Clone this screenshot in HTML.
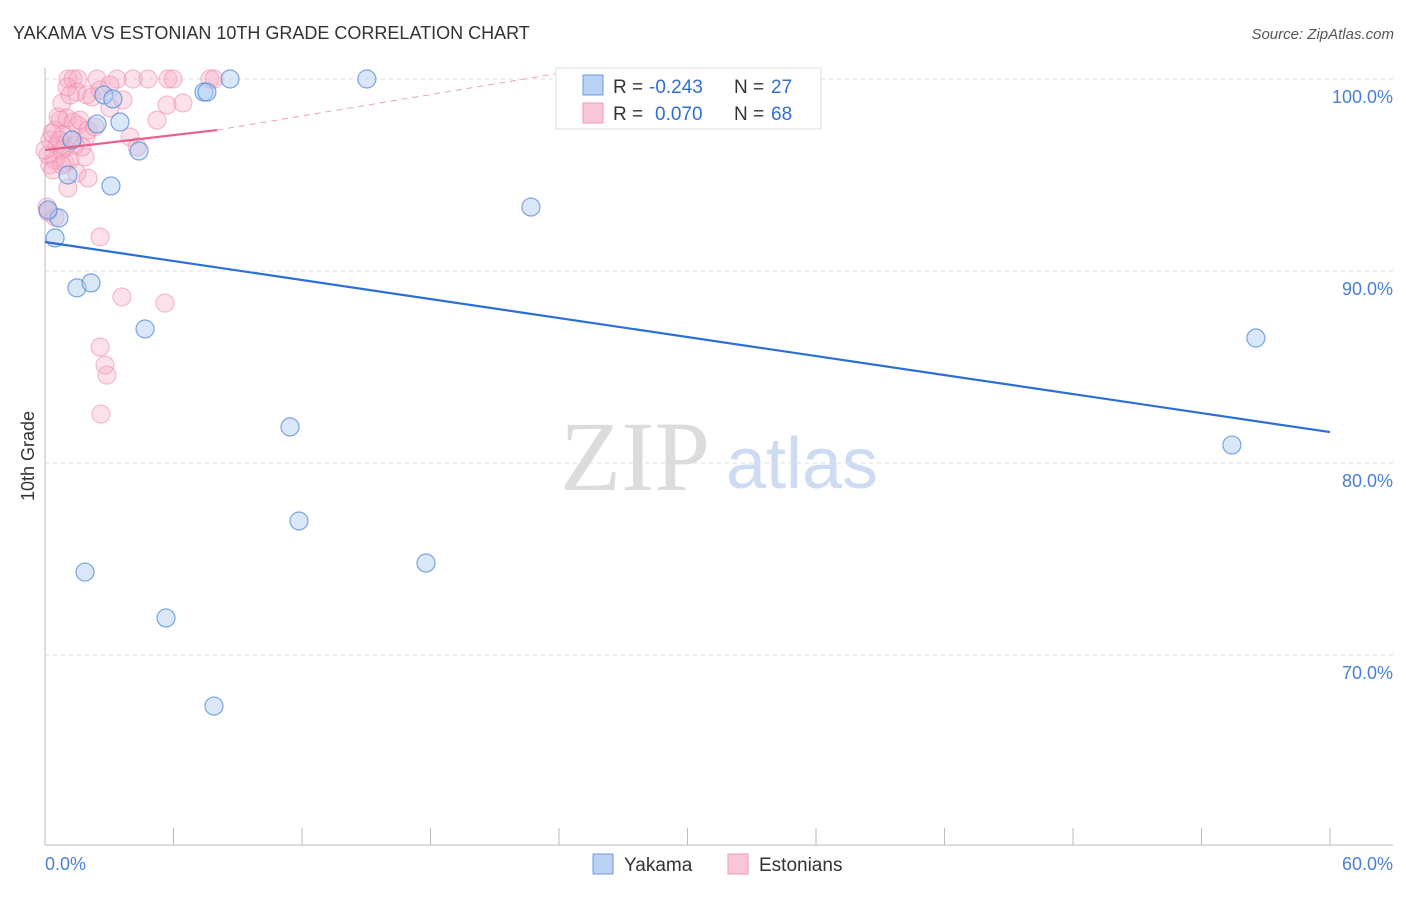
<!DOCTYPE html>
<html><head><meta charset="utf-8"><style>
body{margin:0;background:#fff;font-family:"Liberation Sans",sans-serif;}
</style></head><body>
<svg id="chart" width="1406" height="892" xmlns="http://www.w3.org/2000/svg" font-family="Liberation Sans, sans-serif">
<text x="13" y="39" font-size="18" fill="#333">YAKAMA VS ESTONIAN 10TH GRADE CORRELATION CHART</text>
<text x="1394" y="39" font-size="15" fill="#555" text-anchor="end" font-style="italic">Source: ZipAtlas.com</text>
<text x="34" y="456" font-size="18" fill="#333" text-anchor="middle" transform="rotate(-90 34 456)">10th Grade</text>
<g>
<text x="635" y="490" font-size="100" fill="#dcdcdc" text-anchor="middle" style="font-family:'Liberation Serif',serif">ZIP</text>
<text x="802" y="488" font-size="72" fill="#cddcf2" text-anchor="middle">atlas</text>
</g>
<g id="grid"></g><g id="axes"></g><g id="pink"></g><g id="blue"></g><g id="lines"></g>
<g>
<rect x="556" y="68" width="265" height="61" fill="#fff" stroke="#ddd"/>
<rect x="583" y="75" width="20" height="20" fill="#b9d2f3" stroke="#6c9be0"/>
<rect x="583" y="103" width="20" height="20" fill="#f9c6d5" stroke="#ee9ab6"/>
<text x="613" y="93" font-size="19" fill="#333">R =</text>
<text x="649" y="93" font-size="19" fill="#2f6fd0">-0.243</text>
<text x="734" y="93" font-size="19" fill="#333">N =</text>
<text x="771" y="93" font-size="19" fill="#2f6fd0">27</text>
<text x="613" y="120" font-size="19" fill="#333">R =</text>
<text x="655" y="120" font-size="19" fill="#2f6fd0">0.070</text>
<text x="734" y="120" font-size="19" fill="#333">N =</text>
<text x="771" y="120" font-size="19" fill="#2f6fd0">68</text>
</g>
<g>
<rect x="593" y="854" width="20" height="20" fill="#b9d2f3" stroke="#6c9be0"/>
<text x="624" y="871" font-size="19" fill="#333">Yakama</text>
<rect x="728" y="854" width="20" height="20" fill="#f9c6d5" stroke="#ee9ab6"/>
<text x="759" y="871" font-size="19" fill="#333">Estonians</text>
</g>
</svg>
<script>
const yTicks=[100,90,80,70];
const yTickLabels=["100.0%","90.0%","80.0%","70.0%"];
const xTicks=[0,6,12,18,24,30,36,42,48,54,60];
const blueX=[0.47,0.65,0.14,1.49,2.15,1.87,1.07,1.26,2.43,3.08,2.75,3.17,3.50,4.39,4.67,5.65,7.42,7.56,7.89,8.64,11.44,11.86,15.03,17.79,22.69,56.54,55.42];
const blueY=[91.72,92.76,93.18,89.12,89.38,74.32,95.0,96.82,97.66,94.43,99.17,98.96,97.76,96.25,86.98,71.93,99.32,99.32,67.34,100,81.88,76.98,100,74.79,93.33,86.51,80.94];
const pinkX=[1.07,1.31,1.54,2.43,3.36,4.11,4.81,5.74,5.98,7.70,7.89,1.03,1.49,1.96,2.19,3.03,5.70,6.44,5.23,0.79,0.70,1.03,1.31,0.47,0.84,1.54,0.23,0.56,0.93,1.26,0.14,0.47,0.79,1.17,0.23,1.91,1.63,2.01,3.97,4.30,1.87,0.37,0.93,1.49,2.01,1.07,0.09,0.47,2.57,3.59,5.60,2.57,2.80,2.89,2.61,2.33,0.61,3.03,3.64,0.33,0.0,0.7,1.4,0.79,1.73,2.57,1.17,0.14];
const pinkY=[100,100,100,100,100,100,100,100,100,100,100,99.58,99.32,99.17,99.06,98.49,98.65,98.75,97.86,98.75,97.86,97.97,97.76,97.34,97.08,97.60,96.82,96.56,96.41,96.82,96.04,95.78,96.30,95.78,95.52,96.98,97.86,97.34,96.98,96.46,95.94,95.26,95.63,95.10,94.84,94.32,93.33,92.81,91.77,88.65,88.33,86.04,85.10,84.58,82.55,97.5,98.02,99.69,98.91,97.19,96.3,96.82,96.56,95.52,96.46,99.43,99.17,93.07];
const blueLine=[[0,91.51],[60,81.61]];
const pinkLineSolid=[[0,96.30],[8.03,97.34]];
const pinkLineDash=[[8.03,97.34],[24,100.3]];
const X=v=>45+v*(1285/60);
const Y=v=>79+(100-v)*19.2;
const NS="http://www.w3.org/2000/svg";
function mk(t,p,a){const e=document.createElementNS(NS,t);for(const k in a)e.setAttribute(k,a[k]);p.appendChild(e);return e;}
const grid=document.getElementById('grid');
yTicks.forEach((t,i)=>{
 const l=mk('line',grid,{x1:45,x2:1393,y1:Y(t),y2:Y(t),stroke:'#ddd','stroke-dasharray':'4,4'});
 
 
 const tx=mk('text',grid,{x:1393,y:Y(t)+24,'font-size':18,fill:'#4a7fd4','text-anchor':'end'});
 tx.textContent=yTickLabels[i];
 
 
});
const axes=document.getElementById('axes');
mk('line',axes,{x1:45,x2:45,y1:68,y2:845,stroke:'#bbb'});
mk('line',axes,{x1:45,x2:1393,y1:845,y2:845,stroke:'#bbb'});
xTicks.forEach(t=>{const l=mk('line',axes,{x1:X(t),x2:X(t),y1:828,y2:845,stroke:'#bbb'});
 
 });
let t0=mk('text',axes,{x:45,y:870,'font-size':18,fill:'#4a7fd4'});t0.textContent='0.0%';


let t1=mk('text',axes,{x:1393,y:870,'font-size':18,fill:'#4a7fd4','text-anchor':'end'});t1.textContent='60.0%';


const pg=document.getElementById('pink');
pinkX.forEach((x,i)=>{const c=mk('circle',pg,{cx:X(x),cy:Y(pinkY[i]),r:9,fill:'rgba(246,170,196,0.35)',stroke:'rgba(236,140,172,0.55)','stroke-width':1.2});
 
 });
const bg=document.getElementById('blue');
blueX.forEach((x,i)=>{const c=mk('circle',bg,{cx:X(x),cy:Y(blueY[i]),r:9,fill:'rgba(170,202,242,0.45)',stroke:'rgba(80,138,218,0.75)','stroke-width':1.2});
 
 });
const lg=document.getElementById('lines');
let b=mk('line',lg,{x1:X(blueLine[0][0]),y1:Y(blueLine[0][1]),x2:X(blueLine[1][0]),y2:Y(blueLine[1][1]),stroke:'#2a6fd6','stroke-width':2.2});


let p=mk('line',lg,{x1:X(pinkLineSolid[0][0]),y1:Y(pinkLineSolid[0][1]),x2:X(pinkLineSolid[1][0]),y2:Y(pinkLineSolid[1][1]),stroke:'#e8608c','stroke-width':2.2});


let pd=mk('line',lg,{x1:X(pinkLineDash[0][0]),y1:Y(pinkLineDash[0][1]),x2:X(pinkLineDash[1][0]),y2:Y(pinkLineDash[1][1]),stroke:'#eca0b8','stroke-width':1,'stroke-dasharray':'6,5'});


</script>
</body></html>
